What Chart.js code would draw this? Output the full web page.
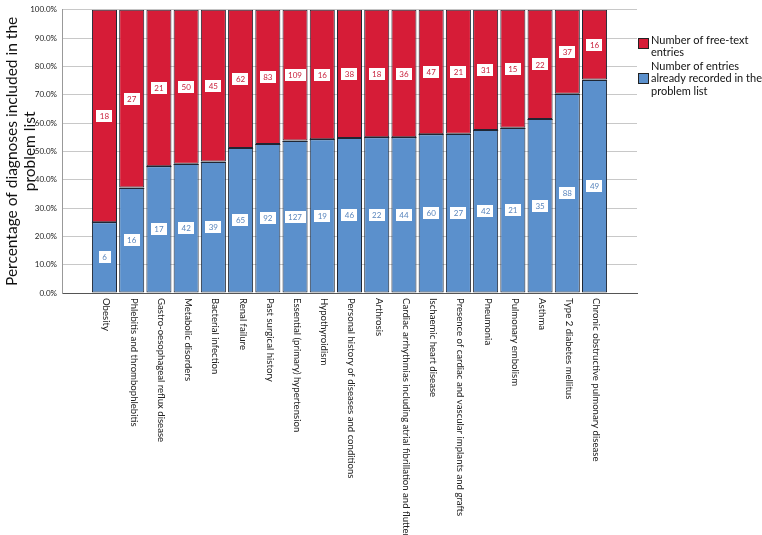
<!DOCTYPE html>
<html>
<head>
<meta charset="utf-8">
<script src="https://cdn.jsdelivr.net/npm/chart.js@4.4.1/dist/chart.umd.min.js"></script>
<style>
    html, body { margin: 0; padding: 0; background: #fff; }
    #wrap { width: 762px; height: 535px; position: relative; }
</style>
</head>
<body>
<div id="wrap"><canvas id="chart"></canvas></div>
<script>
// 诊断类别
const categories = [
    'Obesity',
    'Phlebitis and thrombophlebitis',
    'Gastro-oesophageal reflux disease',
    'Metabolic disorders',
    'Bacterial infection',
    'Renal failure',
    'Past surgical history',
    'Essential (primary) hypertension',
    'Hypothyroidism',
    'Personal history of diseases and conditions',
    'Arthrosis',
    'Cardiac arrhythmias including atrial fibrillation and flutter',
    'Ischaemic heart disease',
    'Presence of cardiac and vascular implants and grafts',
    'Pneumonia',
    'Pulmonary embolism',
    'Asthma',
    'Type 2 diabetes mellitus',
    'Chronic obstructive pulmonary disease'
];

// 已记录在问题列表中的数量
const recordedCounts = [6, 16, 17, 42, 39, 65, 92, 127, 19, 46, 22, 44, 60, 27, 42, 21, 35, 88, 49];
// 自由文本数量
const freeTextCounts = [18, 27, 21, 50, 45, 62, 83, 109, 16, 38, 18, 36, 47, 21, 31, 15, 22, 37, 16];

const yTicks = [0, 10, 20, 30, 40, 50, 60, 70, 80, 90, 100];

const legendLabels = [
    ['Number of free-text', 'entries'],
    ['Number of entries', 'already recorded in the', 'problem list']
];

const RED = '#d61c37';
const BLUE = '#5b90cc';

// 百分比
function pct(a, b) {
    return a.map((v, i) => v / (v + b[i]) * 100);
}
const recordedPct = pct(recordedCounts, freeTextCounts);
const freePct = pct(freeTextCounts, recordedCounts);

// 数值标签
const valueLabels = {
    id: 'valueLabels',
    afterDatasetsDraw(chart) {
        const ctx = chart.ctx;
        ctx.save();
        ctx.font = '8px Lato';
        ctx.textAlign = 'center';
        ctx.textBaseline = 'middle';
        chart.data.datasets.forEach((ds, di) => {
            const meta = chart.getDatasetMeta(di);
            meta.data.forEach((el, i) => {
                const txt = String(ds.counts[i]);
                const cy = (el.y + el.base) / 2;
                const w = ctx.measureText(txt).width + 7;
                ctx.fillStyle = '#fff';
                ctx.fillRect(Math.round(el.x - w / 2), Math.round(cy - 6), Math.round(w), 12);
                ctx.fillStyle = ds.labelColor;
                ctx.fillText(txt, el.x, cy + 0.5);
            });
        });
        // 红蓝分界线
        const blue = chart.getDatasetMeta(0).data;
        ctx.strokeStyle = '#1f2633';
        ctx.lineWidth = 1;
        blue.forEach(el => {
            const y = Math.round(el.y) + 0.5;
            ctx.beginPath();
            ctx.moveTo(el.x - el.width / 2, y);
            ctx.lineTo(el.x + el.width / 2, y);
            ctx.stroke();
        });
        ctx.restore();
    }
};

// 竖排类别标签
const categoryLabels = {
    id: 'categoryLabels',
    afterDraw(chart) {
        const ctx = chart.ctx;
        const x = chart.scales.x;
        ctx.save();
        ctx.font = '9.6px Lato';
        ctx.fillStyle = '#222';
        ctx.textAlign = 'left';
        ctx.textBaseline = 'middle';
        categories.forEach((c, i) => {
            ctx.save();
            ctx.translate(x.getPixelForValue(i) + 2, chart.chartArea.bottom + 5);
            ctx.rotate(Math.PI / 2);
            ctx.fillText(c, 0, 0);
            ctx.restore();
        });
        ctx.restore();
    }
};

// 图例
const sideLegend = {
    id: 'sideLegend',
    afterDraw(chart) {
        const ctx = chart.ctx;
        const left = chart.chartArea.right + 1;
        const boxes = [{ top: 38, lineY: 40 }, { top: 73, lineY: 66 }];
        ctx.save();
        ctx.font = '11px Lato';
        ctx.textBaseline = 'middle';
        legendLabels.forEach((lines, k) => {
            const ds = chart.data.datasets[k === 0 ? 1 : 0];
            ctx.fillStyle = ds.backgroundColor;
            ctx.fillRect(left, boxes[k].top, 11, 11);
            ctx.strokeStyle = '#222';
            ctx.lineWidth = 1;
            ctx.strokeRect(left + 0.5, boxes[k].top + 0.5, 10, 10);
            ctx.fillStyle = '#111';
            lines.forEach((t, j) => {
                ctx.fillText(t, left + 13, boxes[k].lineY + j * 12.5);
            });
        });
        ctx.restore();
    }
};

const ctx = document.getElementById('chart').getContext('2d');
const chart = new Chart(ctx, {
    type: 'bar',
    data: {
        datasets: [{
            label: 'Number of entries already recorded in the problem list',
            data: recordedPct.map((v, i) => ({ x: i, y: v })),
            counts: recordedCounts,
            labelColor: '#5a86bd',
            backgroundColor: BLUE,
            borderColor: '#1f2633',
            borderWidth: 1,
            borderSkipped: false,
            barPercentage: 0.92,
            categoryPercentage: 1
        }, {
            label: 'Number of free-text entries',
            data: freePct.map((v, i) => ({ x: i, y: v })),
            counts: freeTextCounts,
            labelColor: '#c81f3a',
            backgroundColor: RED,
            borderColor: '#1f2633',
            borderWidth: 1,
            borderSkipped: false,
            barPercentage: 0.92,
            categoryPercentage: 1
        }]
    },
    options: {
        responsive: true,
        maintainAspectRatio: false,
        animation: false,
        layout: {
            padding: { top: 4, right: 125, bottom: 242, left: 0 }
        },
        plugins: {
            legend: { display: false },
            tooltip: { enabled: false }
        },
        scales: {
            x: {
                type: 'linear',
                stacked: true,
                offset: false,
                bounds: 'data',
                min: -1.56,
                max: 19.56,
                ticks: { display: false },
                grid: { display: false, drawTicks: false },
                border: { display: true, color: '#555' }
            },
            y: {
                stacked: true,
                min: 0,
                max: 100,
                afterBuildTicks: s => { s.ticks = yTicks.map(v => ({ value: v })); },
                afterFit: s => { s.width = 62; },
                ticks: {
                    font: { family: 'Lato', size: 8 },
                    color: '#222',
                    padding: 5,
                    callback: v => v.toFixed(1) + '%'
                },
                grid: { color: '#c8c8c8', drawTicks: false },
                border: { display: true, color: '#999' },
                title: {
                    display: true,
                    text: ['Percentage of diagnoses included in the', 'problem list'],
                    font: { family: 'Lato', size: 15.5, lineHeight: 1.15 },
                    color: '#111',
                    padding: { top: 3, bottom: 0 }
                }
            }
        }
    },
    plugins: [valueLabels, categoryLabels, sideLegend]
});
</script>
</body>
</html>
